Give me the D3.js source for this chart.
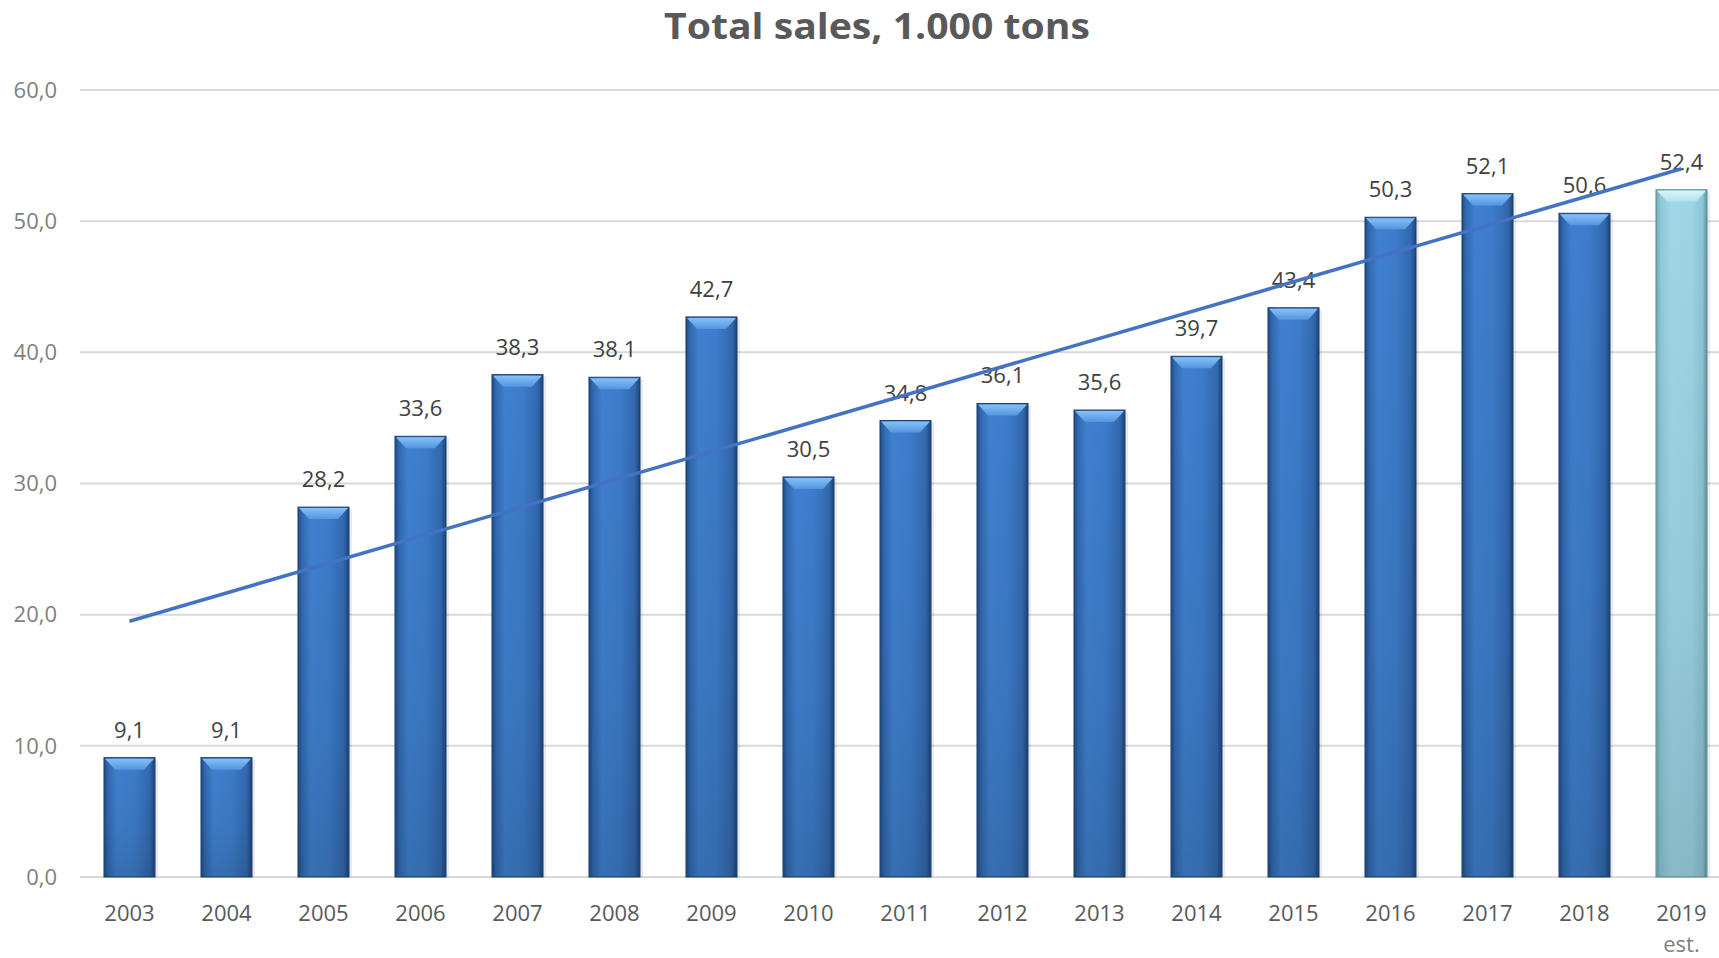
<!DOCTYPE html>
<html>
<head>
<meta charset="utf-8">
<script src="https://cdn.jsdelivr.net/npm/d3@7"></script>
<style>
  html, body { margin: 0; padding: 0; background: #fff; }
  svg { display: block; }
</style>
</head>
<body>
<div id="d3-container"></div>
<script>
/**
 * DATA
 * */
const years = ["2003", "2004", "2005", "2006", "2007", "2008", "2009", "2010", "2011",
  "2012", "2013", "2014", "2015", "2016", "2017", "2018", "2019"];
const sales = [9.1, 9.1, 28.2, 33.6, 38.3, 38.1, 42.7, 30.5, 34.8,
  36.1, 35.6, 39.7, 43.4, 50.3, 52.1, 50.6, 52.4];
const estimated = ["2019"];
// linear trendline, read at first and last year
const trendYears = ["2003", "2019"];
const trendValues = [19.5, 54.0];
const yTicks = [0, 10, 20, 30, 40, 50, 60];

/**
 * CONSTANTS
 * */
const width = 1719,
  height = 958;

const fmt = v => d3.format(".1f")(v).replace(".", ",");

const svg = d3.select("#d3-container")
  .append("svg")
  .attr("width", width)
  .attr("height", height);

const x = d3.scaleBand()
  .domain(years)
  .range([81, 1730])
  .paddingInner(0.474)
  .paddingOuter(0.237);

const y = d3.scaleLinear()
  .domain([0, 60])
  .range([877, 90]);

// gradients
const defs = svg.append("defs");
function hGrad(id, stops) {
  const g = defs.append("linearGradient").attr("id", id)
    .attr("x1", "0").attr("x2", "1").attr("y1", "0").attr("y2", "0");
  stops.forEach(s => g.append("stop").attr("offset", s[0]).attr("stop-color", s[1]));
}
function vGrad(id, stops) {
  const g = defs.append("linearGradient").attr("id", id)
    .attr("x1", "0").attr("x2", "0").attr("y1", "0").attr("y2", "1");
  stops.forEach(s => g.append("stop").attr("offset", s[0]).attr("stop-color", s[1]).attr("stop-opacity", s[2]));
}
hGrad("barBlue", [[0, "#1f4b85"], [0.08, "#3169b0"], [0.25, "#3f80cf"], [0.6, "#3d7cca"], [0.9, "#3268ae"], [1, "#1d4478"]]);
hGrad("barLight", [[0, "#6aa3ae"], [0.08, "#8cc8d6"], [0.3, "#a0d8e8"], [0.7, "#9cd5e5"], [0.92, "#8cc4d2"], [1, "#5d8f99"]]);
vGrad("shade", [[0, "#000", 0], [0.6, "#000", 0.06], [1, "#000", 0.14]]);
vGrad("bevelBlue", [[0, "#86c0f7", 1], [1, "#5295e0", 1]]);
vGrad("bevelLight", [[0, "#dcf5fb", 1], [1, "#aee0f0", 1]]);

// gridlines
svg.append("g")
  .selectAll("line")
  .data(yTicks)
  .join("line")
  .attr("x1", 80)
  .attr("x2", width)
  .attr("y1", d => y(d))
  .attr("y2", d => y(d))
  .attr("stroke", "#d9d9d9")
  .attr("stroke-width", 2);

// y tick labels
svg.append("g")
  .selectAll("text")
  .data(yTicks)
  .join("text")
  .attr("x", 57)
  .attr("y", d => y(d))
  .attr("dy", "0.35em")
  .attr("text-anchor", "end")
  .attr("font-family", "'Open Sans', sans-serif")
  .attr("font-size", 22)
  .attr("fill", "#7f7f7f")
  .text(d => fmt(d));

// bars
const rows = years.map((yr, i) => ({ year: yr, value: sales[i], est: estimated.includes(yr) }));
const bars = svg.append("g")
  .selectAll("g.bar")
  .data(rows)
  .join("g")
  .attr("class", "bar");

// soft shadow
bars.append("rect")
  .attr("x", d => x(d.year) + 3)
  .attr("y", d => y(d.value) + 2)
  .attr("width", x.bandwidth())
  .attr("height", d => y(0) - y(d.value) - 2)
  .attr("fill", "#000")
  .attr("opacity", 0.08);

bars.append("rect")
  .attr("x", d => x(d.year))
  .attr("y", d => y(d.value))
  .attr("width", x.bandwidth())
  .attr("height", d => y(0) - y(d.value))
  .attr("fill", d => d.est ? "url(#barLight)" : "url(#barBlue)")
  .attr("stroke", d => d.est ? "#5f939d" : "#1b3f70")
  .attr("stroke-width", 1);

bars.append("rect")
  .attr("x", d => x(d.year) + 1)
  .attr("y", d => y(d.value))
  .attr("width", x.bandwidth() - 2)
  .attr("height", d => y(0) - y(d.value))
  .attr("fill", "url(#shade)");

// top bevel
bars.append("path")
  .attr("d", d => {
    const x0 = x(d.year) + 1, x1 = x(d.year) + x.bandwidth() - 1;
    const t = y(d.value) + 1, b = t + 11;
    return `M${x0},${t}L${x1},${t}L${x1 - 10},${b}L${x0 + 10},${b}Z`;
  })
  .attr("fill", d => d.est ? "url(#bevelLight)" : "url(#bevelBlue)");

// value labels
svg.append("g")
  .selectAll("text")
  .data(rows)
  .join("text")
  .attr("x", d => x(d.year) + x.bandwidth() / 2)
  .attr("y", d => y(d.value) - 20)
  .attr("text-anchor", "middle")
  .attr("font-family", "'Open Sans', sans-serif")
  .attr("font-size", 22)
  .attr("fill", "#404040")
  .text(d => fmt(d.value));

// trendline
const line = d3.line()
  .x(d => x(d[0]) + x.bandwidth() / 2)
  .y(d => y(d[1]));
svg.append("path")
  .datum(trendYears.map((yr, i) => [yr, trendValues[i]]))
  .attr("d", line)
  .attr("fill", "none")
  .attr("stroke", "#4472c4")
  .attr("stroke-width", 3.5);

// x labels
const xl = svg.append("g")
  .selectAll("text")
  .data(rows)
  .join("text")
  .attr("x", d => x(d.year) + x.bandwidth() / 2)
  .attr("y", 921)
  .attr("text-anchor", "middle")
  .attr("font-family", "'Open Sans', sans-serif")
  .attr("font-size", 22)
  .attr("fill", "#595959");
xl.append("tspan").text(d => d.year);
xl.filter(d => d.est)
  .append("tspan")
  .attr("x", d => x(d.year) + x.bandwidth() / 2)
  .attr("dy", 31)
  .attr("fill", "#7f7f7f")
  .text("est.");

// title
svg.append("text")
  .attr("x", 877)
  .attr("y", 39)
  .attr("text-anchor", "middle")
  .attr("font-family", "'Open Sans', sans-serif")
  .attr("font-weight", 700)
  .attr("font-size", 36)
  .attr("fill", "#595959")
  .attr("textLength", 426)
  .attr("lengthAdjust", "spacingAndGlyphs")
  .text("Total sales, 1.000 tons");
</script>
</body>
</html>
